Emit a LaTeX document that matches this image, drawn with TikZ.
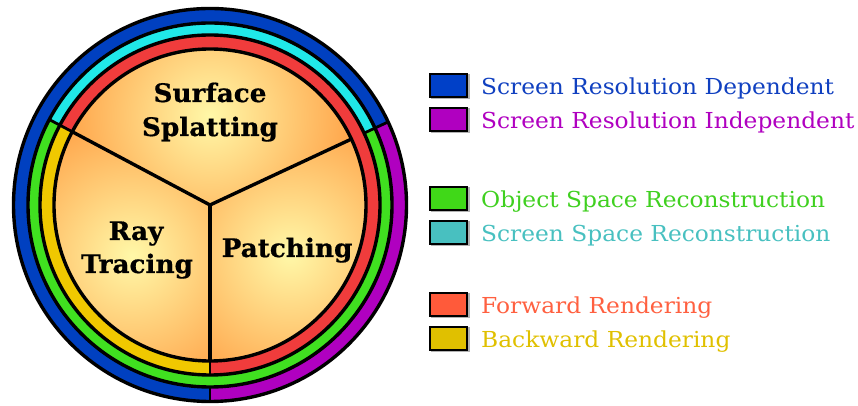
\documentclass[tikz,border=0pt]{standalone}
\usepackage{fontspec}
\setmainfont{DejaVu Serif}
\newfontfamily\legfont[FakeStretch=1.06]{DejaVu Serif}
\newfontfamily\labfont[FakeStretch=1.03,FakeBold=0.6]{DejaVu Serif Bold}
\definecolor{rblue}{HTML}{0040C0}
\definecolor{rpurple}{HTML}{B000C0}
\definecolor{rcyan}{HTML}{20E8E8}
\definecolor{rgreen}{HTML}{40E020}
\definecolor{rred}{HTML}{F03C3C}
\definecolor{ryellow}{HTML}{F0C800}
\definecolor{gin}{HTML}{FFF8A8}
\definecolor{gout}{HTML}{FF983C}
\definecolor{lblue}{HTML}{0040C8}
\definecolor{tblue}{HTML}{1040C0}
\definecolor{lpurple}{HTML}{B000C0}
\definecolor{lgreen}{HTML}{40D818}
\definecolor{tgreen}{HTML}{40D020}
\definecolor{lcyan}{HTML}{48C0C0}
\definecolor{lred}{HTML}{FF5A3A}
\definecolor{tred}{HTML}{FF6040}
\definecolor{lyellow}{HTML}{E0C000}
\newcommand\ringseg[5]{\fill[#1,shift={(210,201)}] (#2:#4) arc[start angle=#2,end angle=#3,radius=#4] -- (#3:#5) arc[start angle=#3,end angle=#2,radius=#5] -- cycle;}
\newcommand\sectorpart[4]{%
  \begin{scope}
    \clip[shift={(210,201)}] (0,0) -- (#1:157) arc[start angle=#1,end angle=#2,radius=157] -- cycle;
    \fill[gout] (210,201) circle (157);
    \shade[inner color=gin,outer color=gout] (#3) circle (#4);
  \end{scope}}
\begin{document}
\begin{tikzpicture}[x=1pt,y=1pt,
  border/.style={line width=3.4pt,black},
  divider/.style={line width=2.8pt,black},
  lbox/.style={draw=black,line width=1.8pt,minimum width=37pt,minimum height=23pt,inner sep=0pt},
  ltext/.style={anchor=base west,font=\legfont\fontsize{22}{26}\selectfont,inner sep=0pt},
  label/.style={anchor=base,font=\labfont\fontsize{25.5}{30}\selectfont,inner sep=0pt}]
\useasboundingbox (0,0) rectangle (858,406);
\coordinate (C) at (210,201);
% rings
\ringseg{rblue}{25}{270}{181}{197}
\ringseg{rpurple}{-90}{25}{181}{197}
\ringseg{rcyan}{25}{152}{169}{183}
\ringseg{rgreen}{152}{385}{169}{183}
\ringseg{rred}{-90}{152}{155}{171}
\ringseg{ryellow}{152}{270}{155}{171}
% sectors with gradients
\coordinate (g1) at (210,290);
\coordinate (g2) at (132,150);
\coordinate (g3) at (290,152);
\sectorpart{25}{152}{g1}{165}
\sectorpart{152}{270}{g2}{165}
\sectorpart{-90}{25}{g3}{165}
% borders
\draw[border] (C) circle (156);
\draw[border] (C) circle (170);
\draw[border] (C) circle (182);
\draw[border] (C) circle (196.5);
% sector lines
\draw[border,line cap=round] (C) -- ++(25:156);
\draw[border,line cap=round] (C) -- ++(152:156);
\draw[border] (C) -- ++(270:156);
% ring dividers
\draw[divider] (C) ++(25:170) -- ++(25:27);
\draw[divider] (C) ++(152:156) -- ++(152:26);
\draw[divider] (C) ++(270:156) -- ++(270:14);
\draw[divider] (C) ++(270:182) -- ++(270:15);
% labels
\node[label] (s1) at (210,304) {Surface};
\node[label] (s2) at (210,270) {Splatting};
\node[label] (r1) at (136,166) {Ray};
\node[label] (r2) at (137,133) {Tracing};
\node[label] (p1) at (287,149) {Patching};
% legend
\foreach \yc/\bc/\tc/\txt [count=\i] in {
  85.5/lblue/tblue/Screen Resolution Dependent,
  119.5/lpurple/lpurple/Screen Resolution Independent,
  198.5/lgreen/tgreen/Object Space Reconstruction,
  232.5/lcyan/lcyan/Screen Space Reconstruction,
  304.5/lred/tred/Forward Rendering,
  338.5/lyellow/lyellow/Backward Rendering}{
  \fill[gray!60] (430.5,406-\yc-13.5) rectangle (469.5,406-\yc+11);
  \node[lbox,fill=\bc] (b\i) at (448.5,406-\yc) {};
  \node[ltext,text=\tc] (t\i) at (481,406-\yc-9) {\txt};
}
\end{tikzpicture}
\end{document}
